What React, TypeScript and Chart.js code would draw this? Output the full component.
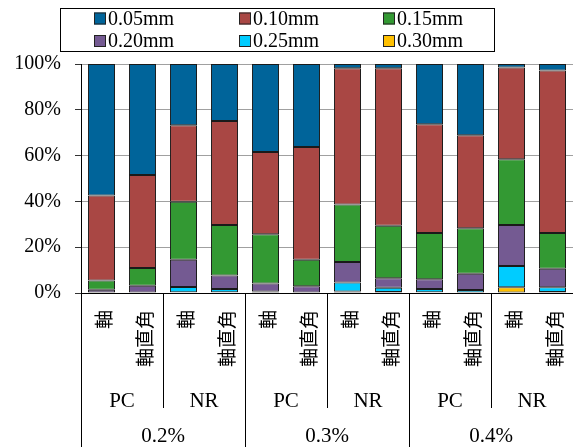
import React, { useEffect, useRef } from 'react';
import { Chart, registerables } from 'chart.js';

Chart.register(...registerables);

// ---- data ----
const dosages = ['0.2%', '0.3%', '0.4%'];
const materials = ['PC', 'NR'];
const directions = ['軸', '軸直角'];
const sizeLabels = ['0.05mm', '0.10mm', '0.15mm', '0.20mm', '0.25mm', '0.30mm'];

// percentages per bar, order: 0.2%PC軸, 0.2%PC軸直角, 0.2%NR軸, 0.2%NR軸直角, 0.3%..., 0.4%...
const d005 = [57.4, 48.5, 26.7, 24.9, 38.4, 36.2, 1.9, 1.9, 26.3, 31.1, 1.5, 2.8];
const d010 = [37.1, 40.6, 33.5, 45.4, 35.9, 49.3, 59.4, 68.7, 47.5, 40.6, 40.1, 71.0];
const d015 = [4.1, 7.7, 25.3, 22.1, 21.5, 11.6, 25.2, 23.0, 20.2, 19.9, 28.7, 15.6];
const d020 = [1.4, 3.2, 11.9, 5.9, 3.5, 2.9, 8.9, 4.1, 4.3, 7.1, 17.9, 8.1];
const d025 = [0, 0, 2.3, 1.4, 0.5, 0, 3.9, 1.9, 1.4, 1.3, 9.3, 2.1];
const d030 = [0, 0, 0.3, 0.3, 0.2, 0, 0.7, 0.4, 0.3, 0, 2.5, 0.4];

const yTickValues = [0, 20, 40, 60, 80, 100];

const colors = ['#00649A', '#A94744', '#339933', '#745A92', '#00CCFF', '#FFC000'];

const series = [d005, d010, d015, d020, d025, d030];

type Cat = { dosage: string; material: string; direction: string };
const categories: Cat[] = [];
dosages.forEach((dosage) =>
  materials.forEach((material) =>
    directions.forEach((direction) => categories.push({ dosage, material, direction }))
  )
);

const SERIF = '"Liberation Serif", "Times New Roman", serif';
const CJK = '"Noto Sans CJK JP", "Noto Sans CJK SC", sans-serif';

const legendPlugin = {
  id: 'boxLegend',
  afterDraw(chart: any) {
    const ctx = chart.ctx as CanvasRenderingContext2D;
    ctx.save();
    ctx.strokeStyle = '#000';
    ctx.lineWidth = 1;
    ctx.strokeRect(60.5, 8.5, 434, 43);
    const colX = [94, 239, 383];
    const rowY = [18.5, 41];
    ctx.font = `20px ${SERIF}`;
    ctx.textBaseline = 'middle';
    ctx.textAlign = 'left';
    sizeLabels.forEach((lab, i) => {
      const cx = colX[i % 3];
      const cy = rowY[Math.floor(i / 3)];
      ctx.fillStyle = colors[i];
      ctx.fillRect(cx, cy - 6, 12, 12);
      ctx.strokeStyle = '#222';
      ctx.strokeRect(cx + 0.5, cy - 5.5, 11, 11);
      ctx.fillStyle = '#000';
      ctx.fillText(lab, cx + 14, cy + 1);
    });
    ctx.restore();
  },
};

const xLabelPlugin = {
  id: 'multiLevelX',
  afterDraw(chart: any) {
    const ctx = chart.ctx as CanvasRenderingContext2D;
    const xs = chart.scales.x;
    const area = chart.chartArea;
    const n = categories.length;
    const step = xs.getPixelForValue(1) - xs.getPixelForValue(0);
    const bottom = chart.height;
    ctx.save();
    ctx.strokeStyle = '#000';
    ctx.lineWidth = 1;
    for (let i = 0; i <= n; i++) {
      const x = Math.round(xs.getPixelForValue(0) + (i - 0.5) * step) + 0.5;
      let yEnd: number | null = null;
      if (i % 4 === 0) yEnd = bottom;
      else if (i % 2 === 0) yEnd = area.bottom + 115;
      if (yEnd !== null) {
        ctx.beginPath();
        ctx.moveTo(x, area.bottom);
        ctx.lineTo(x, yEnd);
        ctx.stroke();
      }
    }
    ctx.fillStyle = '#000';
    // level 1: direction, rotated
    ctx.font = `19px ${CJK}`;
    categories.forEach((c, i) => {
      const x = xs.getPixelForValue(i) + 2;
      ctx.save();
      ctx.translate(x, area.bottom + 17);
      ctx.rotate(-Math.PI / 2);
      ctx.textAlign = 'right';
      ctx.textBaseline = 'middle';
      ctx.fillText(c.direction, 0, 0);
      ctx.restore();
    });
    // level 2: material
    ctx.font = `21px ${SERIF}`;
    ctx.textAlign = 'center';
    ctx.textBaseline = 'middle';
    for (let i = 0; i < n; i += 2) {
      const x = (xs.getPixelForValue(i) + xs.getPixelForValue(i + 1)) / 2;
      ctx.fillText(categories[i].material, x, area.bottom + 108);
    }
    // level 3: dosage
    for (let i = 0; i < n; i += 4) {
      const x = (xs.getPixelForValue(i) + xs.getPixelForValue(i + 3)) / 2;
      ctx.fillText(categories[i].dosage, x, area.bottom + 143);
    }
    ctx.restore();
  },
};

export default function App() {
  const ref = useRef<HTMLCanvasElement | null>(null);
  useEffect(() => {
    if (!ref.current) return;
    const order = [5, 4, 3, 2, 1, 0]; // bottom to top: 0.30mm ... 0.05mm
    const chart = new Chart(ref.current, {
      type: 'bar',
      data: {
        labels: categories.map((c) => `${c.dosage} ${c.material} ${c.direction}`),
        datasets: order.map((k) => ({
          label: sizeLabels[k],
          data: series[k].map((v) => (v === 0 ? null : v)),
          backgroundColor: colors[k],
          borderColor: '#1a1a1a',
          borderWidth: 1,
          borderSkipped: false,
          barPercentage: 0.66,
          categoryPercentage: 1,
        })),
      },
      options: {
        animation: false,
        responsive: true,
        maintainAspectRatio: false,
        layout: { padding: { top: 64, left: 0, right: 0, bottom: 0 } },
        plugins: {
          legend: { display: false },
          tooltip: { enabled: false },
          title: { display: false },
        },
        scales: {
          x: {
            stacked: true,
            grid: { display: false },
            border: { display: true, color: '#000', width: 1 },
            ticks: { display: false },
            afterFit: (s: any) => {
              s.height = 154;
            },
          },
          y: {
            stacked: true,
            min: 0,
            max: 100,
            afterBuildTicks: (s: any) => {
              s.ticks = yTickValues.map((v) => ({ value: v }));
            },
            grid: { color: '#a0a0a0', lineWidth: 1, tickLength: 6, tickColor: '#333' },
            border: { display: true, color: '#000', width: 1 },
            ticks: {
              padding: 14,
              color: '#000',
              font: { family: SERIF, size: 20 },
              callback: (v: any) => `${v}%`,
            },
            afterFit: (s: any) => {
              s.width = 81;
            },
          },
        },
      },
      plugins: [legendPlugin, xLabelPlugin],
    });
    return () => chart.destroy();
  }, []);
  return (
    <div style={{ position: 'absolute', left: 0, top: 0, width: 573, height: 447 }}>
      <canvas ref={ref} />
    </div>
  );
}
